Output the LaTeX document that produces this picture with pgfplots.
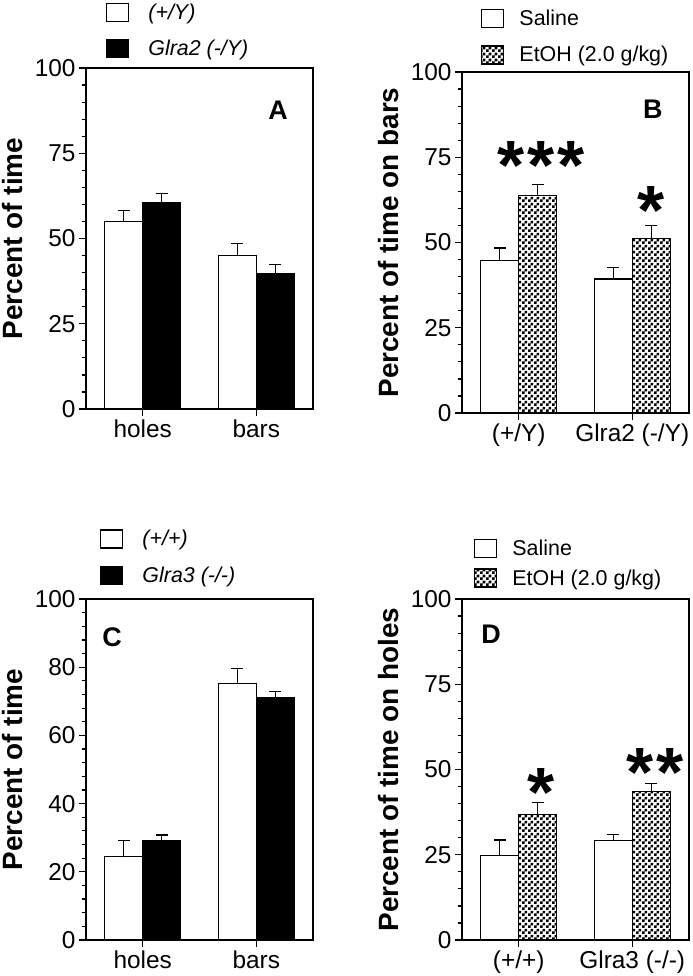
\documentclass[border=0pt]{standalone}
\usepackage{pgfplots}
\pgfplotsset{compat=1.18}
\usepackage{fontspec}
\setmainfont{Liberation Sans}
\usetikzlibrary{patterns}

% small checkerboard for the EtOH bars
\pgfdeclarepatternformonly{checks}{\pgfpointorigin}{\pgfqpoint{6bp}{6bp}}{\pgfqpoint{6bp}{6bp}}{%
  \pgfpathrectangle{\pgfpointorigin}{\pgfqpoint{3bp}{3bp}}%
  \pgfpathrectangle{\pgfqpoint{3bp}{3bp}}{\pgfqpoint{3bp}{3bp}}%
  \pgfusepath{fill}}

\newcommand\fs[1]{\fontsize{#1}{#1}\selectfont}

\tikzset{
  stars/.style={font=\bfseries\fs{70}, anchor=base, yshift=-34.5bp, inner sep=0pt},
  letter/.style={font=\bfseries\fs{27}},
}

\pgfplotsset{
  panel/.style={
    scale only axis, width=227bp, height=341bp,
    xmin=-0.5, xmax=1.5, ymin=0, ymax=100,
    ybar=0pt, bar width=38bp,
    xtick={0,1}, tick pos=left, tick align=outside,
    major tick length=7bp, minor tick length=4bp,
    minor y tick num=4,
    every tick/.style={line width=1.2bp, black},
    axis line style={line width=1.4bp},
    /pgf/number format/assume math mode=true,
    tick label style={font=\fs{24.5}},
    every axis y label/.style={at={(axis description cs:-0.322,0.5)}, rotate=90,
      anchor=center, font=\bfseries\fs{28}},
    legend cell align=left,
    legend style={draw=none, fill=none, inner sep=0pt, anchor=north west,
      nodes={inner sep=0pt}, font=\fs{21.5}, row sep=17bp,
      /tikz/every odd column/.style={column sep=15bp}},
    error bars/y dir=plus, error bars/y explicit,
    error bars/error mark=-,
    error bars/error mark options={rotate=90, mark size=6bp, line width=1.2bp},
    error bars/error bar style={line width=1.2bp},
  },
  italleg/.style={legend style={font=\itshape\fs{21.5},
      /tikz/every odd column/.style={column sep=19bp}}},
  boxleg/.style={legend image code/.code={\draw[##1, line width=1.2bp] (0bp,-9bp) rectangle (22bp,9bp);}},
  wbar/.style={fill=white, draw=black, line width=1.2bp, boxleg},
  kbar/.style={fill=black, draw=black, line width=1.2bp, boxleg},
  cbar/.style={pattern=checks, draw=black, line width=1.2bp, boxleg},
}

\begin{document}
\begin{tikzpicture}
\path[use as bounding box] (0,0) rectangle (693bp,-976bp);

% A
\begin{axis}[panel, italleg, at={(86bp,-409bp)}, anchor=south west,
  ytick={0,25,50,75,100}, xticklabels={holes,bars},
  ylabel={Percent of time},
  legend style={at={(0.088,1.191)}}]
\addplot[wbar] coordinates {(0,55.0) +- (0,3.3) (1,45.1) +- (0,3.4)};
\addplot[kbar] coordinates {(0,60.4) +- (0,2.9) (1,39.7) +- (0,2.7)};
\legend{(+/Y), Glra2 (-/Y)}
\node[letter] at (axis description cs:0.846,0.877) {A};
\end{axis}

% B
\begin{axis}[panel, at={(462bp,-413bp)}, anchor=south west,
  ytick={0,25,50,75,100}, xticklabels={(+/Y),Glra2 (-/Y)},
  ylabel={Percent of time on bars},
  legend style={at={(0.084,1.185)}}]
\addplot[wbar] coordinates {(0,44.8) +- (0,3.6) (1,39.3) +- (0,3.3)};
\addplot[cbar] coordinates {(0,63.8) +- (0,3.1) (1,51.1) +- (0,3.9)};
\legend{Saline, EtOH (2.0 g/kg)}
\node[letter] at (axis description cs:0.841,0.891) {B};
\node[stars] at (axis cs:0.2,75.7) {*\kern3bp*\kern3bp*};
\node[stars] at (axis cs:1.17,62.6) {*};
\end{axis}

% C
\begin{axis}[panel, italleg, at={(86bp,-940bp)}, anchor=south west,
  ytick={0,20,40,60,80,100}, xticklabels={holes,bars},
  ylabel={Percent of time},
  legend style={at={(0.062,1.205)}}]
\addplot[wbar] coordinates {(0,24.5) +- (0,4.7) (1,75.2) +- (0,4.4)};
\addplot[kbar] coordinates {(0,29.1) +- (0,1.7) (1,71.0) +- (0,1.9)};
\legend{(+/+), Glra3 (-/-)}
\node[letter] at (axis description cs:0.115,0.889) {C};
\end{axis}

% D
\begin{axis}[panel, at={(462bp,-940bp)}, anchor=south west,
  ytick={0,25,50,75,100}, xticklabels={(+/+),Glra3 (-/-)},
  ylabel={Percent of time on holes},
  legend style={at={(0.053,1.176)}, row sep=10bp}]
\addplot[wbar] coordinates {(0,24.7) +- (0,4.6) (1,29.1) +- (0,1.9)};
\addplot[cbar] coordinates {(0,36.9) +- (0,3.4) (1,43.5) +- (0,2.5)};
\legend{Saline, EtOH (2.0 g/kg)}
\node[letter] at (axis description cs:0.128,0.897) {D};
\node[stars] at (axis cs:0.2,46.3) {*};
\node[stars] at (axis cs:1.2,52.2) {*\kern3bp*};
\end{axis}
\end{tikzpicture}
\end{document}
